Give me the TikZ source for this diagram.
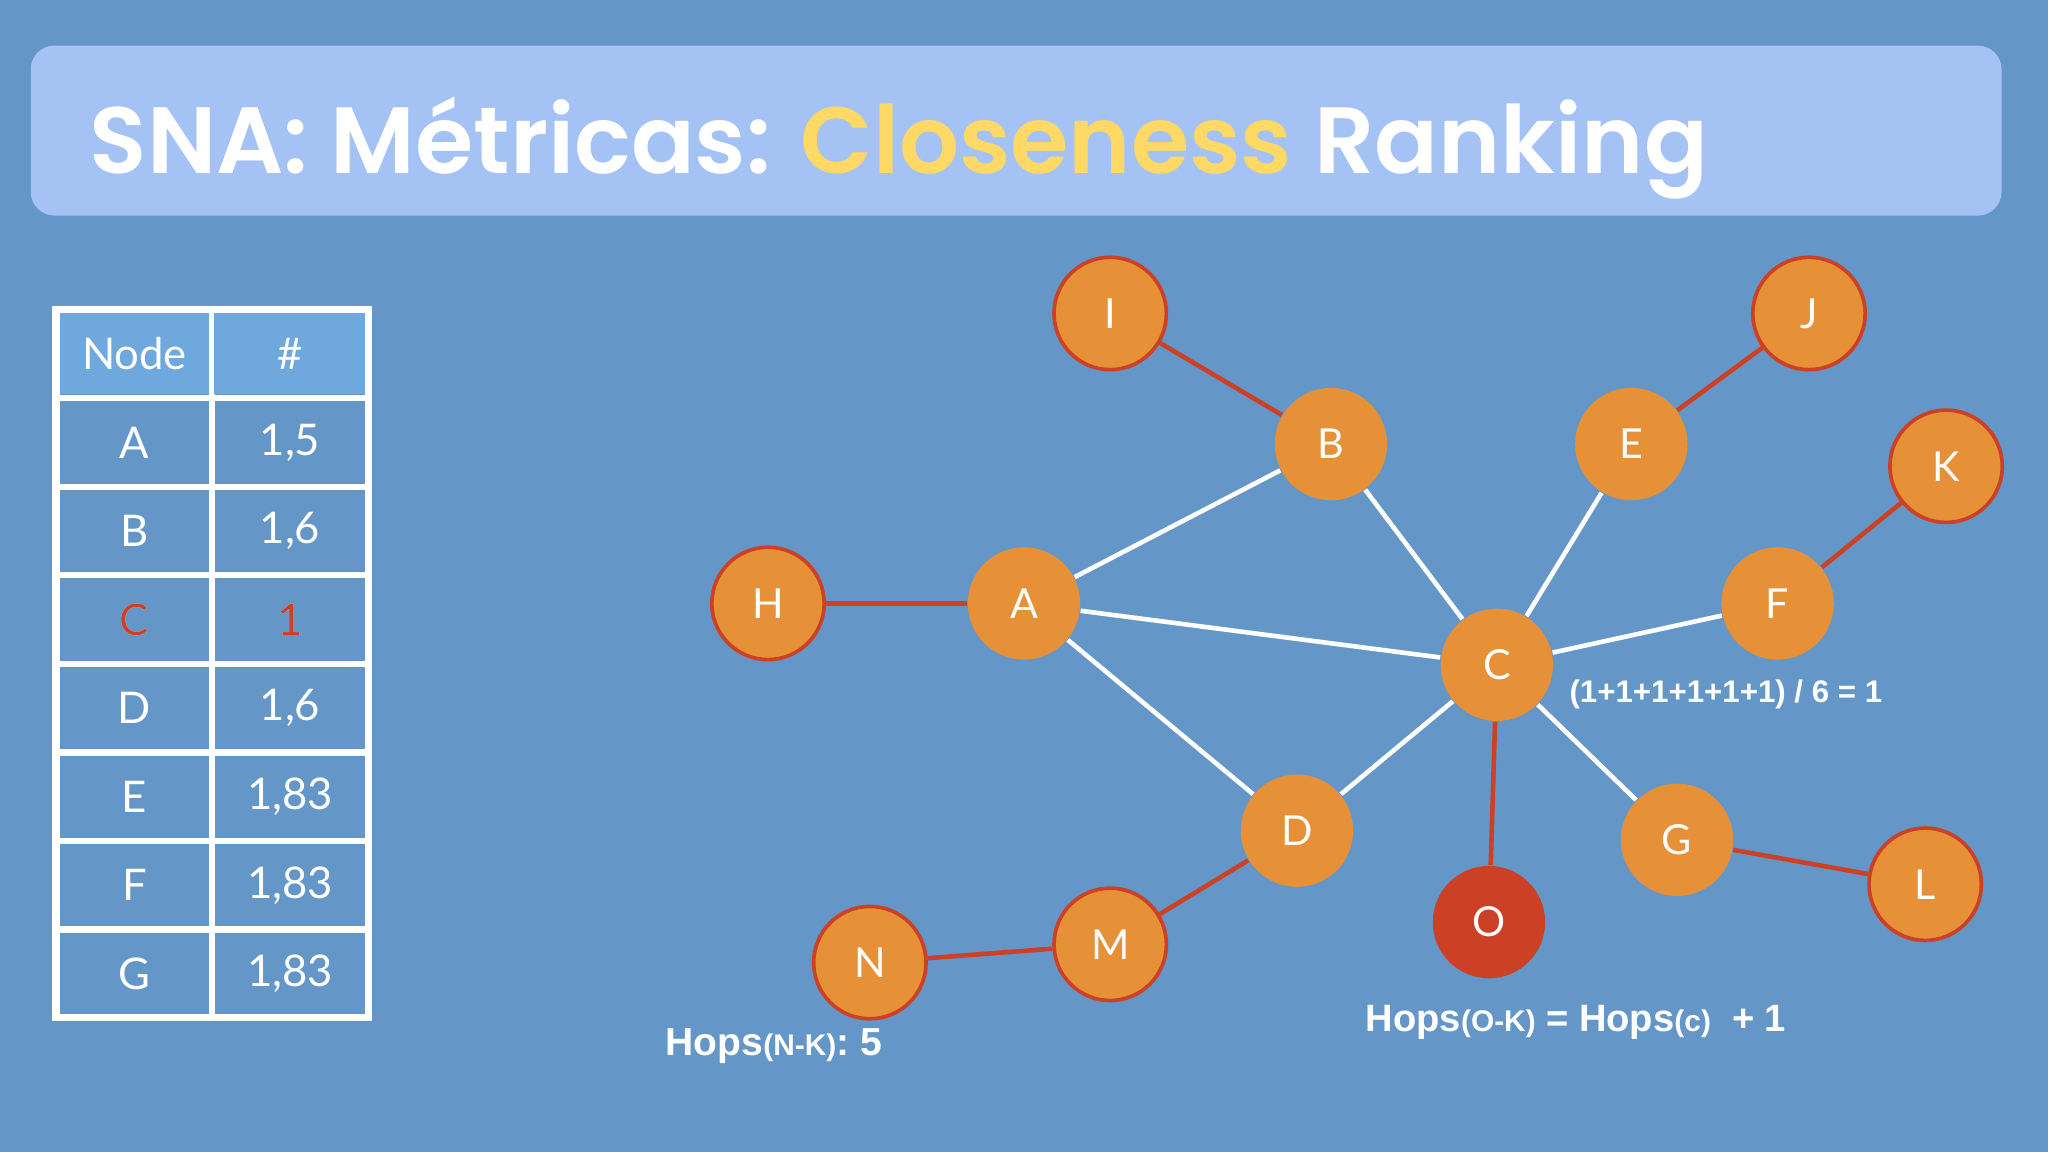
\documentclass[tikz,border=0pt]{standalone}
\usepackage{fontspec}
\setmainfont{Lato}
\newfontfamily\titlefont{Poppins}[UprightFont=* SemiBold]
\newfontfamily\armfont{Liberation Sans}
\definecolor{bg}{HTML}{6497C8}
\definecolor{tbox}{HTML}{A4C2F4}
\definecolor{hdr}{HTML}{6FA8DC}
\definecolor{org}{HTML}{E69138}
\definecolor{rd}{HTML}{CC4125}
\definecolor{yl}{HTML}{FFD966}
\tikzset{
 nd/.style={circle,fill=org,minimum size=0.86cm,inner sep=0pt,text=white,font=\fontsize{9}{9}\selectfont},
 outer/.style={nd,draw=rd,line width=0.8pt},
 wl/.style={white,line width=1pt},
 rl/.style={rd,line width=1pt},
 cell/.style={draw=white,line width=1.3pt,minimum width=1.19cm,minimum height=0.68cm,inner sep=0pt,text=white,font=\fontsize{9.5}{9.5}\selectfont},
 lbl/.style={text=white,font=\armfont\bfseries\fontsize{6.8}{7}\selectfont,inner sep=0pt}
}
\begin{document}
\begin{tikzpicture}[x=0.01cm,y=-0.01cm]
\fill[bg] (0,0) rectangle (1568,882);
\node[fill=tbox,rounded corners=0.18cm,minimum width=15.08cm,minimum height=1.3cm,inner sep=0pt] (title) at (778,100) {};
\node[anchor=base west,inner sep=0pt,text=white,font=\titlefont\fontsize{20.5}{20.5}\selectfont] (tt) at (68,133) {SNA: Métricas: \textcolor{yl}{Closeness} Ranking};
% table
\foreach \r/\a/\b [count=\i from 0] in {Node/\#,A/{1,5},B/{1,6},C/1,D/{1,6},E/{1,83},F/{1,83},G/{1,83}}{
  \pgfmathsetmacro\yy{271+67.8*\i}
  \node[cell] (t\i a) at (103,\yy) {\r};
  \node[cell] (t\i b) at (222,\yy) {\b};
}
\fill[hdr] (45,239) rectangle (160,302);
\fill[hdr] (164,239) rectangle (280,302);
\node[text=white,font=\fontsize{9.5}{9.5}\selectfont] (h1) at (103,271) {Node};
\node[text=white,font=\fontsize{9.5}{9.5}\selectfont] (h2) at (222,271) {\#};
\node[cell,text=rd] (c3a) at (103,474.4) {C};
\node[cell,text=rd] (c3b) at (222,474.4) {1};
\draw[white,line width=1.6pt] (43,237) rectangle (282,779);
% graph
\node[outer] (I) at (850,240) {I};
\node[outer] (J) at (1385,240) {J};
\node[nd] (B) at (1019,340) {B};
\node[nd] (E) at (1249,340) {E};
\node[outer] (K) at (1490,357) {K};
\node[outer] (H) at (588,462) {H};
\node[nd] (A) at (784,462) {A};
\node[nd] (F) at (1361,462) {F};
\node[nd] (C) at (1146,509) {C};
\node[nd] (D) at (993,636) {D};
\node[nd] (G) at (1284,643) {G};
\node[outer] (L) at (1474,677) {L};
\node[nd,fill=rd] (O) at (1140,706) {O};
\node[outer] (M) at (850,723) {M};
\node[outer] (N) at (666,737) {N};
\foreach \u/\v in {A/B,A/C,A/D,B/C,E/C,F/C,D/C,G/C} \draw[wl] (\u) -- (\v);
\foreach \u/\v in {I/B,J/E,K/F,H/A,O/C,M/D,N/M,L/G} \draw[rl] (\u) -- (\v);
\node[lbl,anchor=west] (f) at (1201,532) {(1+1+1+1+1+1) / 6 = 1};
\node[lbl,anchor=base west,font=\armfont\bfseries\fontsize{8.3}{9}\selectfont] (h1t) at (1045,790) {Hops{\fontsize{6.5}{7}\selectfont(O-K)} = Hops{\fontsize{6.5}{7}\selectfont(c)}\ \ + 1};
\node[lbl,anchor=base west,font=\armfont\bfseries\fontsize{8.5}{9}\selectfont] (h2t) at (509,808) {Hops{\fontsize{6.5}{7}\selectfont(N-K)}: 5};
\end{tikzpicture}
\end{document}
